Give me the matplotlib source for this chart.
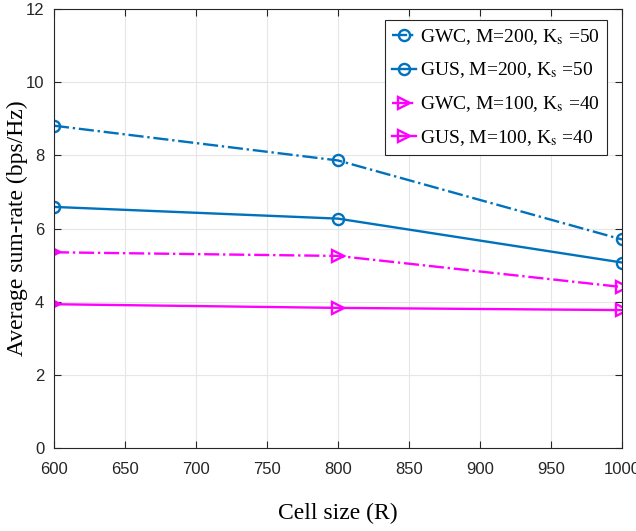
import matplotlib
matplotlib.use("Agg")
import matplotlib.pyplot as plt

# ── Data ────────────────────────────────────────────────────────────
cell_size = [600, 800, 1000]
gwc_m200 = [8.81, 7.86, 5.70]
gus_m200 = [6.59, 6.27, 5.07]
gwc_m100 = [5.35, 5.25, 4.40]
gus_m100 = [3.93, 3.83, 3.77]

labels = [
    r"GWC, M=200, K$_{\rm s}$ =50",
    r"GUS, M=200, K$_{\rm s}$ =50",
    r"GWC, M=100, K$_{\rm s}$ =40",
    r"GUS, M=100, K$_{\rm s}$ =40",
]

BLUE = "#0072BD"
MAGENTA = "#FF00FF"

plt.rcParams["mathtext.fontset"] = "stix"

fig = plt.figure(figsize=(6.36, 5.31), dpi=100)
ax = fig.add_axes([54 / 636, 1 - 448 / 531, (622 - 54) / 636, (448 - 9) / 531])

common = dict(linewidth=1.7, markersize=8, markeredgewidth=1.7, fillstyle="none")
ax.plot(cell_size, gwc_m200, "-.", marker="o", color=BLUE, label=labels[0], **common)
ax.plot(cell_size, gus_m200, "-", marker="o", color=BLUE, label=labels[1], **common)
ax.plot(cell_size, gwc_m100, "-.", marker=">", color=MAGENTA, label=labels[2], **common)
ax.plot(cell_size, gus_m100, "-", marker=">", color=MAGENTA, label=labels[3], **common)

ax.set_xlim(600, 1000)
ax.set_ylim(0, 12)
ax.set_xticks(range(600, 1001, 50))
ax.set_yticks(range(0, 13, 2))
ax.tick_params(direction="in", labelsize=12, length=5, colors="#262626",
               top=True, right=True)
ax.tick_params(axis="x", pad=10)
ax.tick_params(axis="y", pad=7)
for lbl in ax.get_xticklabels() + ax.get_yticklabels():
    lbl.set_fontfamily("Liberation Sans")
for s in ax.spines.values():
    s.set_color("#262626")
    s.set_linewidth(0.8)
ax.grid(True, color="#e6e6e6", linewidth=0.8)
ax.set_axisbelow(True)

ax.set_xlabel("Cell size (R)", fontsize=17, family="Liberation Serif", labelpad=19)
ax.set_ylabel("Average sum-rate (bps/Hz)", fontsize=17, family="Liberation Serif")
ax.yaxis.set_label_coords(-0.046, 0.5)

leg = ax.legend(loc="upper right", bbox_to_anchor=(0.9736, 0.975),
                prop={"family": "Liberation Serif", "size": 14},
                fancybox=False, edgecolor="#262626", framealpha=1,
                handlelength=1.2, handletextpad=0.25, borderpad=0.35,
                labelspacing=0.72, borderaxespad=0)
leg.get_frame().set_linewidth(0.8)

fig.savefig("out.png", dpi=100, facecolor="white")
